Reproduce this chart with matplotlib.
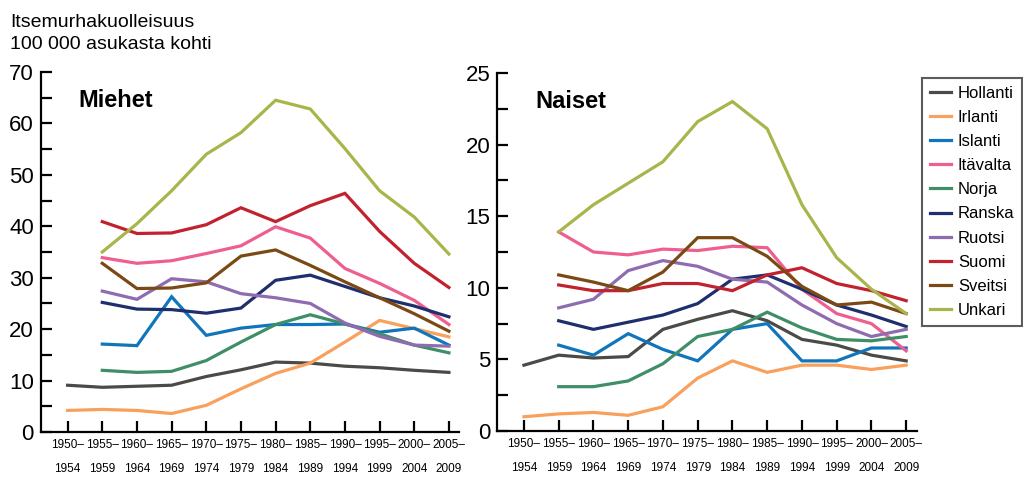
import matplotlib
matplotlib.use("Agg")
from matplotlib import pyplot as plt
from matplotlib.ticker import MultipleLocator

plt.rcParams['font.family'] = ['Liberation Sans', 'DejaVu Sans']

periods = ['1950–\n1954', '1955–\n1959', '1960–\n1964', '1965–\n1969', '1970–\n1974',
           '1975–\n1979', '1980–\n1984', '1985–\n1989', '1990–\n1994', '1995–\n1999',
           '2000–\n2004', '2005–\n2009']
countries = ['Hollanti', 'Irlanti', 'Islanti', 'Itävalta', 'Norja',
             'Ranska', 'Ruotsi', 'Suomi', 'Sveitsi', 'Unkari']
colors = ['#4a4a46', '#f9a05c', '#1075bb', '#ee5f8f', '#3e8e67',
          '#1f2f6e', '#8f6bb0', '#c1222e', '#7b4a14', '#a9b54b']

N = None
men = {
    'Hollanti': [9.1, 8.7, 8.9, 9.1, 10.8, 12.1, 13.6, 13.4, 12.8, 12.5, 12.0, 11.6],
    'Irlanti':  [4.2, 4.4, 4.2, 3.6, 5.2, 8.4, 11.4, 13.4, 17.5, 21.7, 20.1, 18.5],
    'Islanti':  [N, 17.1, 16.8, 26.3, 18.8, 20.2, 20.9, 20.9, 21.0, 19.4, 20.2, 16.9],
    'Itävalta': [N, 33.9, 32.8, 33.3, 34.7, 36.2, 39.9, 37.7, 31.8, 28.9, 25.6, 20.9],
    'Norja':    [N, 12.0, 11.6, 11.8, 13.9, 17.5, 20.9, 22.8, 21.0, 19.1, 16.9, 15.4],
    'Ranska':   [N, 25.2, 23.9, 23.8, 23.1, 24.1, 29.5, 30.5, 28.3, 26.1, 24.5, 22.4],
    'Ruotsi':   [N, 27.4, 25.8, 29.8, 29.2, 26.9, 26.1, 25.0, 21.2, 18.6, 16.9, 16.7],
    'Suomi':    [N, 40.9, 38.6, 38.7, 40.3, 43.6, 40.9, 44.0, 46.4, 39.0, 32.8, 28.1],
    'Sveitsi':  [N, 32.8, 27.9, 28.0, 29.0, 34.2, 35.4, 32.4, 29.2, 26.1, 23.0, 19.6],
    'Unkari':   [N, 35.0, 40.5, 46.9, 54.0, 58.2, 64.5, 62.8, 55.1, 46.9, 41.8, 34.6],
}
women = {
    'Hollanti': [4.6, 5.3, 5.1, 5.2, 7.1, 7.8, 8.4, 7.7, 6.4, 6.0, 5.3, 4.9],
    'Irlanti':  [1.0, 1.2, 1.3, 1.1, 1.7, 3.7, 4.9, 4.1, 4.6, 4.6, 4.3, 4.6],
    'Islanti':  [N, 6.0, 5.3, 6.8, 5.7, 4.9, 7.1, 7.5, 4.9, 4.9, 5.8, 5.8],
    'Itävalta': [N, 13.9, 12.5, 12.3, 12.7, 12.6, 12.9, 12.8, 9.9, 8.2, 7.5, 5.6],
    'Norja':    [N, 3.1, 3.1, 3.5, 4.7, 6.6, 7.1, 8.3, 7.2, 6.4, 6.3, 6.6],
    'Ranska':   [N, 7.7, 7.1, 7.6, 8.1, 8.9, 10.6, 10.9, 9.9, 8.8, 8.1, 7.3],
    'Ruotsi':   [N, 8.6, 9.2, 11.2, 11.9, 11.5, 10.6, 10.4, 8.8, 7.5, 6.6, 7.1],
    'Suomi':    [N, 10.2, 9.8, 9.8, 10.3, 10.3, 9.8, 10.9, 11.4, 10.3, 9.8, 9.1],
    'Sveitsi':  [N, 10.9, 10.4, 9.8, 11.1, 13.5, 13.5, 12.2, 10.1, 8.8, 9.0, 8.2],
    'Unkari':   [N, 13.9, 15.8, 17.3, 18.8, 21.6, 23.0, 21.1, 15.8, 12.1, 9.9, 8.2],
}


def style(ax, ymax, major, minor):
    ax.set_xlim(-0.77, 11.3)
    ax.set_ylim(0, ymax)
    ax.spines['top'].set_visible(False)
    ax.spines['right'].set_visible(False)
    ax.spines['left'].set_linewidth(1.6)
    ax.spines['bottom'].set_linewidth(1.6)
    ax.yaxis.set_major_locator(MultipleLocator(major))
    ax.yaxis.set_minor_locator(MultipleLocator(minor))
    ax.set_xticks(range(len(periods)))
    ax.set_xticklabels(periods, fontsize=8.5, linespacing=2.3)
    ax.tick_params(axis='both', which='both', direction='in', length=8, width=1.6)
    ax.tick_params(axis='y', labelsize=16, pad=5)
    ax.tick_params(axis='x', pad=5)


fig = plt.figure(figsize=(10.23, 4.86), dpi=100)
ax1 = fig.add_axes([0.040, 0.111, 0.409, 0.741])
ax2 = fig.add_axes([0.486, 0.113, 0.410, 0.737])

x = list(range(len(periods)))
for ax, data in ((ax1, men), (ax2, women)):
    for c, col in zip(countries, colors):
        ax.plot(x, [float('nan') if v is None else v for v in data[c]],
                color=col, lw=2.3, label=c, solid_joinstyle='miter')

style(ax1, 70, 10, 5)
style(ax2, 25, 5, 2.5)

ax1.text(0.09, 0.92, 'Miehet', transform=ax1.transAxes, fontsize=17,
         fontweight='bold', va='center')
ax2.text(0.09, 0.92, 'Naiset', transform=ax2.transAxes, fontsize=17,
         fontweight='bold', va='center')

fig.text(0.010, 0.972, 'Itsemurhakuolleisuus\n100 000 asukasta kohti',
         fontsize=14, va='top', ha='left', linespacing=1.4)

handles, labels = ax1.get_legend_handles_labels()
leg = fig.legend(handles, labels, loc='upper right', bbox_to_anchor=(0.999, 0.8395),
                 fontsize=12, frameon=True, fancybox=False, handlelength=1.3,
                 handletextpad=0.4, labelspacing=0.55, borderpad=0.45,
                 borderaxespad=0)
leg.get_frame().set_edgecolor('#333333')
leg.get_frame().set_linewidth(1.5)

fig.savefig('out.png', dpi=100)
